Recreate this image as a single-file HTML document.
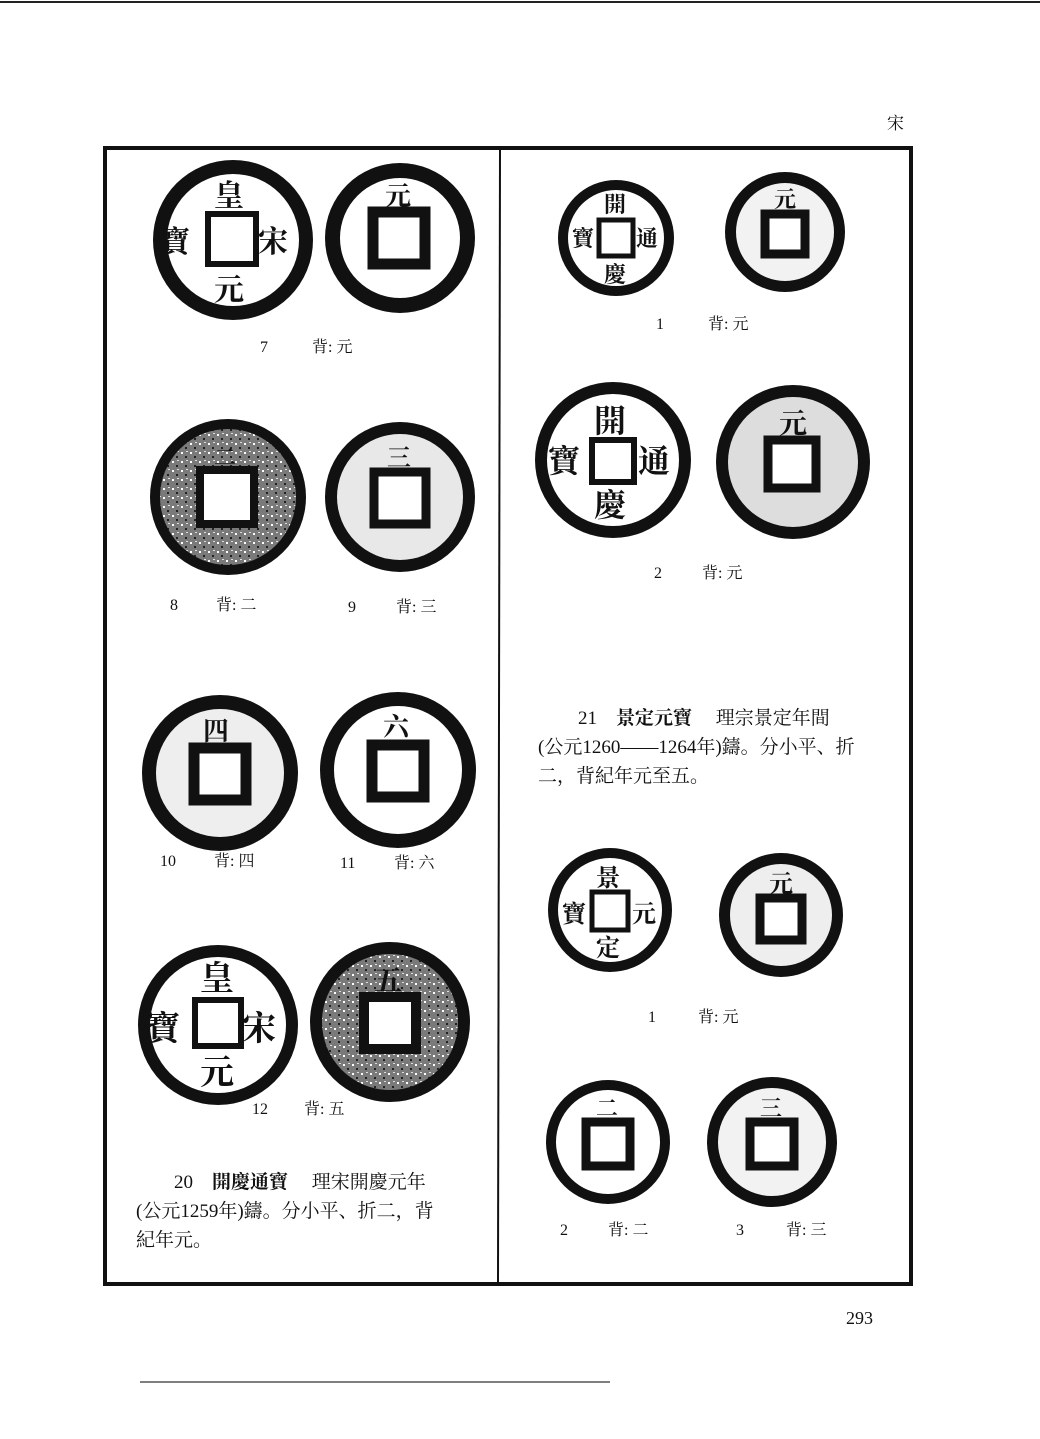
<!DOCTYPE html>
<html><head><meta charset="utf-8"><style>
html,body{margin:0;padding:0;background:#fff;}
svg{display:block;}
text{font-family:"Liberation Serif","Noto Serif CJK SC","Noto Sans CJK SC",serif;fill:#111;}
.c{font-family:"Noto Serif CJK SC","Noto Sans CJK SC",serif;font-weight:bold;}
</style></head><body>
<svg width="1040" height="1439" viewBox="0 0 1040 1439" xmlns="http://www.w3.org/2000/svg">
<defs>
<pattern id="sp" width="9" height="9" patternUnits="userSpaceOnUse">
<rect width="9" height="9" fill="#7a7a7a"/><rect x="1" y="2" width="2" height="2" fill="#fff"/><rect x="5" y="6" width="2" height="2" fill="#222"/><rect x="6" y="1" width="2" height="1" fill="#ddd"/>
</pattern>
</defs>
<line x1="0" y1="2" x2="1040" y2="2" stroke="#222" stroke-width="2"/>
<text x="887" y="129" font-size="17">宋</text>
<rect x="105" y="148" width="806" height="1136" fill="none" stroke="#111" stroke-width="4"/>
<line x1="500" y1="150" x2="498" y2="1283" stroke="#111" stroke-width="2"/>

<g><circle cx="233" cy="240" r="80" fill="#111"/><circle cx="233" cy="240" r="66" fill="#fff"/>
<rect x="208" y="214" width="48" height="50" fill="#fff" stroke="#111" stroke-width="6"/>
<text class="c" x="214" y="206" font-size="30">皇</text><text class="c" x="258" y="252" font-size="30">宋</text>
<text class="c" x="160" y="252" font-size="30">寶</text><text class="c" x="214" y="300" font-size="30">元</text></g>
<g><circle cx="400" cy="238" r="75" fill="#111"/><circle cx="400" cy="238" r="60" fill="#fff"/>
<rect x="373" y="212" width="52" height="52" fill="#fff" stroke="#111" stroke-width="11"/>
<text class="c" x="385" y="205" font-size="26">元</text></g>
<text x="260" y="352" font-size="16">7</text><text x="312" y="352" font-size="16">背: 元</text>

<g><circle cx="228" cy="497" r="78" fill="#111"/><circle cx="228" cy="497" r="68" fill="url(#sp)"/>
<rect x="200" y="470" width="54" height="54" fill="#fff" stroke="#111" stroke-width="8"/>
<text class="c" x="214" y="465" font-size="22" fill="#fff">二</text></g>
<g><circle cx="400" cy="497" r="75" fill="#111"/><circle cx="400" cy="497" r="63" fill="#e8e8e8"/>
<rect x="374" y="472" width="52" height="52" fill="#fff" stroke="#111" stroke-width="9"/>
<text class="c" x="387" y="466" font-size="24">三</text></g>
<text x="170" y="610" font-size="16">8</text><text x="216" y="610" font-size="16">背: 二</text>
<text x="348" y="612" font-size="16">9</text><text x="396" y="612" font-size="16">背: 三</text>

<g><circle cx="220" cy="773" r="78" fill="#111"/><circle cx="220" cy="773" r="64" fill="#eee"/>
<rect x="194" y="748" width="52" height="52" fill="#fff" stroke="#111" stroke-width="11"/>
<text class="c" x="203" y="740" font-size="26">四</text></g>
<g><circle cx="398" cy="770" r="78" fill="#111"/><circle cx="398" cy="770" r="64" fill="#fff"/>
<rect x="372" y="745" width="52" height="52" fill="#fff" stroke="#111" stroke-width="11"/>
<text class="c" x="383" y="736" font-size="26">六</text></g>
<text x="160" y="866" font-size="16">10</text><text x="214" y="866" font-size="16">背: 四</text>
<text x="340" y="868" font-size="16">11</text><text x="394" y="868" font-size="16">背: 六</text>

<g><circle cx="218" cy="1025" r="80" fill="#111"/><circle cx="218" cy="1025" r="68" fill="#fff"/>
<rect x="195" y="1000" width="46" height="46" fill="#fff" stroke="#111" stroke-width="6"/>
<text class="c" x="200" y="990" font-size="34">皇</text><text class="c" x="242" y="1040" font-size="34">宋</text>
<text class="c" x="146" y="1040" font-size="34">寶</text><text class="c" x="200" y="1084" font-size="34">元</text></g>
<g><circle cx="390" cy="1022" r="80" fill="#111"/><circle cx="390" cy="1022" r="68" fill="url(#sp)"/>
<rect x="364" y="997" width="52" height="52" fill="#fff" stroke="#111" stroke-width="10"/>
<text class="c" x="374" y="990" font-size="28">五</text></g>
<text x="252" y="1114" font-size="16">12</text><text x="304" y="1114" font-size="16">背: 五</text>

<text x="174" y="1188" font-size="19">20　<tspan font-weight="bold">開慶通寶</tspan>　 理宋開慶元年</text>
<text x="136" y="1217" font-size="19">(公元1259年)鑄。分小平、折二，背</text>
<text x="136" y="1246" font-size="19">紀年元。</text>

<g><circle cx="616" cy="238" r="58" fill="#111"/><circle cx="616" cy="238" r="48" fill="#fff"/>
<rect x="599" y="220" width="34" height="36" fill="#fff" stroke="#111" stroke-width="5"/>
<text class="c" x="604" y="212" font-size="22">開</text><text class="c" x="636" y="246" font-size="22">通</text>
<text class="c" x="572" y="246" font-size="22">寶</text><text class="c" x="604" y="282" font-size="22">慶</text></g>
<g><circle cx="785" cy="232" r="60" fill="#111"/><circle cx="785" cy="232" r="49" fill="#f2f2f2"/>
<rect x="765" y="214" width="40" height="40" fill="#fff" stroke="#111" stroke-width="9"/>
<text class="c" x="774" y="207" font-size="22">元</text></g>
<text x="656" y="329" font-size="16">1</text><text x="708" y="329" font-size="16">背: 元</text>

<g><circle cx="613" cy="460" r="78" fill="#111"/><circle cx="613" cy="460" r="66" fill="#fff"/>
<rect x="592" y="440" width="42" height="42" fill="#fff" stroke="#111" stroke-width="6"/>
<text class="c" x="594" y="432" font-size="32">開</text><text class="c" x="638" y="472" font-size="32">通</text>
<text class="c" x="548" y="472" font-size="32">寶</text><text class="c" x="594" y="516" font-size="32">慶</text></g>
<g><circle cx="793" cy="462" r="77" fill="#111"/><circle cx="793" cy="462" r="65" fill="#ddd"/>
<rect x="768" y="440" width="48" height="48" fill="#fff" stroke="#111" stroke-width="9"/>
<text class="c" x="779" y="433" font-size="28">元</text></g>
<text x="654" y="578" font-size="16">2</text><text x="702" y="578" font-size="16">背: 元</text>

<text x="578" y="724" font-size="19">21　<tspan font-weight="bold">景定元寶</tspan>　 理宗景定年間</text>
<text x="538" y="753" font-size="19">(公元1260——1264年)鑄。分小平、折</text>
<text x="538" y="782" font-size="19">二，背紀年元至五。</text>

<g><circle cx="610" cy="910" r="62" fill="#111"/><circle cx="610" cy="910" r="52" fill="#fff"/>
<rect x="592" y="892" width="36" height="38" fill="#fff" stroke="#111" stroke-width="5"/>
<text class="c" x="596" y="886" font-size="24">景</text><text class="c" x="632" y="922" font-size="24">元</text>
<text class="c" x="562" y="922" font-size="24">寶</text><text class="c" x="596" y="956" font-size="24">定</text></g>
<g><circle cx="781" cy="915" r="62" fill="#111"/><circle cx="781" cy="915" r="51" fill="#eee"/>
<rect x="760" y="898" width="42" height="42" fill="#fff" stroke="#111" stroke-width="9"/>
<text class="c" x="769" y="892" font-size="24">元</text></g>
<text x="648" y="1022" font-size="16">1</text><text x="698" y="1022" font-size="16">背: 元</text>

<g><circle cx="608" cy="1142" r="62" fill="#111"/><circle cx="608" cy="1142" r="52" fill="#fff"/>
<rect x="586" y="1122" width="44" height="44" fill="#fff" stroke="#111" stroke-width="9"/>
<text class="c" x="596" y="1116" font-size="22">二</text></g>
<g><circle cx="772" cy="1142" r="65" fill="#111"/><circle cx="772" cy="1142" r="54" fill="#f2f2f2"/>
<rect x="750" y="1122" width="44" height="44" fill="#fff" stroke="#111" stroke-width="9"/>
<text class="c" x="760" y="1116" font-size="22">三</text></g>
<text x="560" y="1235" font-size="16">2</text><text x="608" y="1235" font-size="16">背: 二</text>
<text x="736" y="1235" font-size="16">3</text><text x="786" y="1235" font-size="16">背: 三</text>

<text x="846" y="1324" font-size="18">293</text>
<line x1="140" y1="1382" x2="610" y2="1382" stroke="#555" stroke-width="1.5"/>
</svg>
</body></html>
